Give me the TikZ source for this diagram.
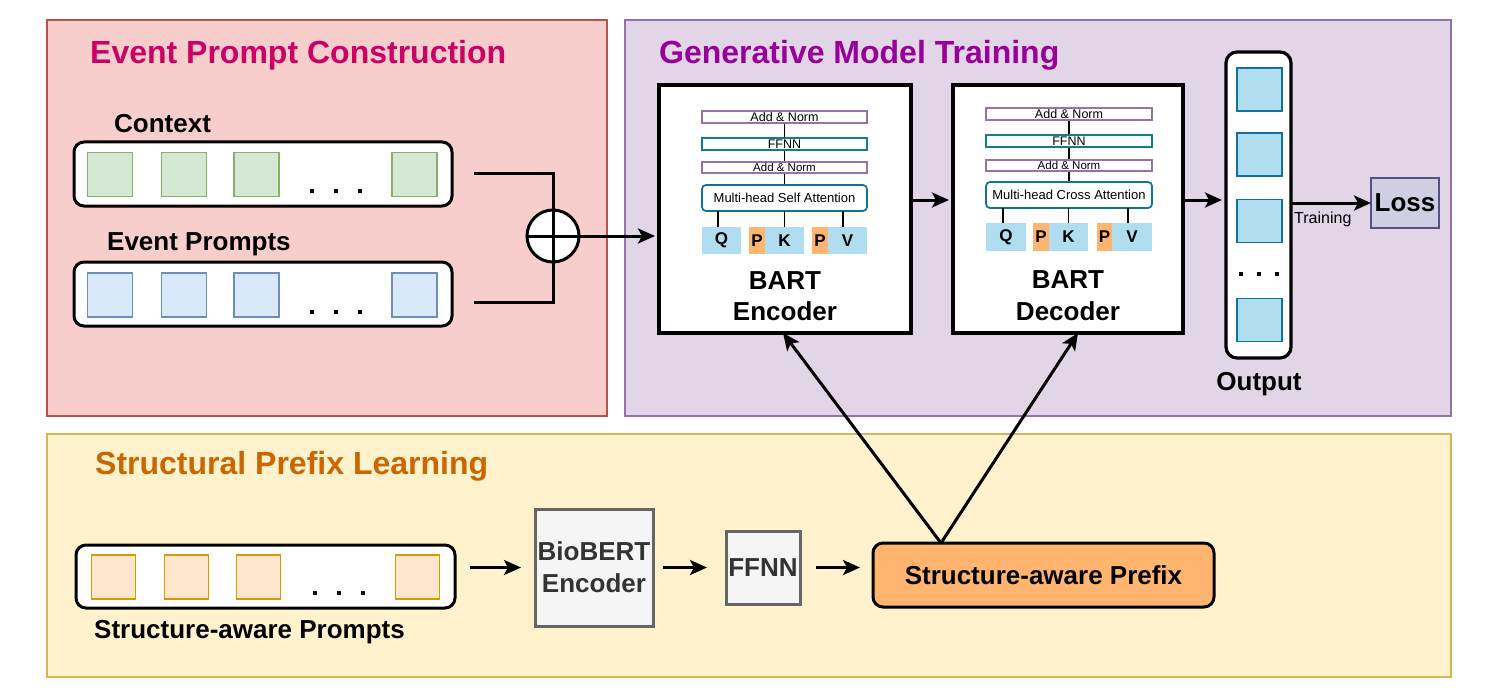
\documentclass[tikz,border=0pt]{standalone}
\usepackage{fontspec}
\setmainfont{Liberation Sans}
\usetikzlibrary{arrows.meta}
\definecolor{redfill}{HTML}{F8CECC}
\definecolor{redline}{HTML}{B85450}
\definecolor{purfill}{HTML}{E1D5E7}
\definecolor{purline}{HTML}{9673A6}
\definecolor{yelfill}{HTML}{FFF2CC}
\definecolor{yelline}{HTML}{D6B656}
\definecolor{tone}{HTML}{CC0066}
\definecolor{ttwo}{HTML}{990099}
\definecolor{tthree}{HTML}{CC6600}
\definecolor{grfill}{HTML}{D5E8D4}
\definecolor{grline}{HTML}{82B366}
\definecolor{blfill}{HTML}{DAE8FC}
\definecolor{blline}{HTML}{6C8EBF}
\definecolor{orfill}{HTML}{FFE6CC}
\definecolor{orline}{HTML}{D79B00}
\definecolor{qkv}{HTML}{B1DDF0}
\definecolor{qkvline}{HTML}{10739E}
\definecolor{porange}{HTML}{FFB570}
\definecolor{tealline}{HTML}{0E8088}
\definecolor{lossfill}{HTML}{D0CEE2}
\definecolor{lossline}{HTML}{56517E}
\definecolor{grayfill}{HTML}{F5F5F5}
\definecolor{grayline}{HTML}{666666}
\definecolor{graytext}{HTML}{333333}
\begin{document}
\begin{tikzpicture}[x=1pt,y=-1pt,
  panel/.style={draw, line width=1.5pt, inner sep=0, outer sep=0},
  title/.style={font=\fontsize{32}{36}\selectfont\bfseries, inner sep=0, anchor=base west},
  lbl/.style={font=\fontsize{26}{32}\selectfont\bfseries, inner sep=0},
  seqbox/.style={draw, line width=3pt, fill=white, rounded corners=10, inner sep=0, outer sep=0},
  sq/.style={draw, line width=1.5pt, minimum width=45, minimum height=44, inner sep=0, outer sep=0},
  bigbox/.style={draw, line width=3.2pt, fill=white, inner sep=0, outer sep=0},
  arr/.style={line width=3pt, -{Stealth[length=17pt,width=15pt,inset=4pt]}},
  con/.style={line width=3pt},
  thinl/.style={line width=1.6pt},
  an/.style={draw=purline, line width=1.5pt, fill=white, minimum width=165, inner sep=0, outer sep=0, font=\fontsize{12.5}{14}\selectfont},
  ff/.style={draw=tealline, line width=1.8pt, fill=white, minimum width=165, minimum height=12, inner sep=0, outer sep=0, font=\fontsize{12.5}{14}\selectfont},
  mh/.style={draw=qkvline, line width=1.7pt, fill=white, rounded corners=4, minimum width=165, minimum height=26, inner sep=0, outer sep=0, font=\fontsize{13}{15}\selectfont},
  qk/.style={fill=qkv, inner sep=0, outer sep=0, font=\fontsize{17}{18}\selectfont\bfseries},
  pp/.style={fill=porange, inner sep=0, outer sep=0, font=\fontsize{17}{18}\selectfont\bfseries},
  outsq/.style={draw=qkvline, fill=qkv, line width=1.5pt, minimum width=45, minimum height=43, inner sep=0, outer sep=0},
  graybox/.style={draw=grayline, fill=grayfill, line width=3pt, text=graytext, align=center, inner sep=0, outer sep=0, font=\fontsize{26}{32}\selectfont\bfseries}
]
\useasboundingbox (0,0) rectangle (1494,698);

% panels
\node[panel, fill=redfill, draw=redline, minimum width=560, minimum height=396] (pred) at (327,218) {};
\node[panel, fill=purfill, draw=purline, minimum width=826, minimum height=396] (ppur) at (1038,218) {};
\node[panel, fill=yelfill, draw=yelline, minimum width=1404, minimum height=243] (pyel) at (749,555.5) {};

\node[title, text=tone] (tone) at (90,64) {Event Prompt Construction};
\node[title, text=ttwo] (ttwo) at (659,64) {Generative Model Training};
\node[title, text=tthree] (tthree) at (95,474) {Structural Prefix Learning};

% context
\node[lbl, anchor=base west] (ctxl) at (114,132) {Context};
\node[seqbox, minimum width=378, minimum height=64] (ctx) at (263,174) {};
\foreach \x [count=\i] in {110,184,256.5,414.5}
  \node[sq, fill=grfill, draw=grline] (cs\i) at (\x,174.5) {};
\foreach \x in {312,336,360} \fill (\x-2.3,191-2.3) rectangle +(4.6,4.6);

% event prompts
\node[lbl, anchor=base west] (evtl) at (107,250) {Event Prompts};
\node[seqbox, minimum width=378, minimum height=64] (evt) at (263,294) {};
\foreach \x [count=\i] in {110,184,256.5,414.5}
  \node[sq, fill=blfill, draw=blline] (es\i) at (\x,295) {};
\foreach \x in {312,336,360} \fill (\x-2.3,312-2.3) rectangle +(4.6,4.6);

% combination
\node[circle, draw, line width=3pt, fill=white, minimum size=52, inner sep=0, outer sep=0] (plus) at (553,236) {};
\draw[con, shorten <=22pt] ([yshift=1pt]ctx.east) -| (plus.north);
\draw[con, shorten <=22pt] ([yshift=-8pt]evt.east) -| (plus.south);
\draw[con] (plus.north) -- (plus.south);
\draw[con] (plus.west) -- (plus.east);

% encoder / decoder boxes
\node[bigbox, minimum width=252, minimum height=248] (enc) at (785,209) {};
\node[bigbox, minimum width=230, minimum height=248] (dec) at (1068,209) {};
\draw[arr, shorten >=4pt] (plus.east) -- (plus.east -| enc.west);

% encoder internals
\draw[thinl] (784.5,117) -- (784.5,198);
\node[an, minimum height=12] (eA1) at (784.5,117) {Add \& Norm};
\node[ff] (eF) at (784.5,144) {FFNN};
\node[an, minimum height=11, font=\fontsize{11.5}{13}\selectfont] (eA2) at (784.5,167.5) {Add \& Norm};
\node[mh] (eM) at (784.5,198) {Multi-head Self Attention};
\node[qk, minimum width=39, minimum height=27] (eQ) at (721.5,240.5) {Q};
\node[pp, minimum width=16, minimum height=27] (eP1) at (757,240.5) {P};
\node[qk, minimum width=39, minimum height=27] (eK) at (784.5,240.5) {K};
\node[pp, minimum width=16, minimum height=27] (eP2) at (820,240.5) {P};
\node[qk, minimum width=39, minimum height=27] (eV) at (847.5,240.5) {V};
\draw[thinl] ([xshift=-3.5pt]eQ.north) -- ([xshift=-3.5pt]eQ.north |- eM.south);
\draw[thinl] (eK.north) -- (eK.north |- eM.south);
\draw[thinl] ([xshift=-4.5pt]eV.north) -- ([xshift=-4.5pt]eV.north |- eM.south);
\node[lbl, anchor=base] (encl1) at (785,289) {BART};
\node[lbl, anchor=base] (encl2) at (785,320) {Encoder};

% decoder internals
\draw[thinl] (1069,114) -- (1069,195);
\node[an, minimum width=166, minimum height=12] (dA1) at (1069,114) {Add \& Norm};
\node[ff, minimum width=166] (dF) at (1069,141) {FFNN};
\node[an, minimum width=166, minimum height=11, font=\fontsize{11.5}{13}\selectfont] (dA2) at (1069,165.5) {Add \& Norm};
\node[mh, minimum width=166] (dM) at (1069,195) {Multi-head Cross Attention};
\node[qk, minimum width=40, minimum height=28] (dQ) at (1006,237) {Q};
\node[pp, minimum width=16, minimum height=28] (dP1) at (1041,237) {P};
\node[qk, minimum width=39, minimum height=28] (dK) at (1068.5,237) {K};
\node[pp, minimum width=15, minimum height=28] (dP2) at (1104.5,237) {P};
\node[qk, minimum width=40, minimum height=28] (dV) at (1132,237) {V};
\draw[thinl] ([xshift=-3pt]dQ.north) -- ([xshift=-3pt]dQ.north |- dM.south);
\draw[thinl] (dK.north) -- (dK.north |- dM.south);
\draw[thinl] ([xshift=-4pt]dV.north) -- ([xshift=-4pt]dV.north |- dM.south);
\node[lbl, anchor=base] (decl1) at (1068,288) {BART};
\node[lbl, anchor=base] (decl2) at (1068,320) {Decoder};

\draw[arr, shorten >=4pt] ([yshift=9pt]enc.east) -- ([yshift=9pt]dec.west);

% output
\node[bigbox, rounded corners=11, minimum width=65, minimum height=306] (out) at (1258.5,205) {};
\foreach \y [count=\i] in {89.5,154.5,221,320}
  \node[outsq] (os\i) at (1259.5,\y) {};
\foreach \x in {1241,1259,1277} \fill (\x-2,274-2) rectangle +(4,4);
\node[lbl, anchor=base] (outl) at (1259,390) {Output};
\draw[arr, shorten >=4pt] ([yshift=9pt]dec.east) -- ([yshift=9pt]dec.east -| out.west);

% loss
\node[draw=lossline, fill=lossfill, line width=2.4pt, minimum width=68, minimum height=50, inner sep=0, outer sep=0, font=\fontsize{26}{30}\selectfont\bfseries] (loss) at (1405,203) {Loss};
\draw[arr] (loss.west -| out.east) -- (loss.west);
\node[font=\fontsize{16}{18}\selectfont, inner sep=0, anchor=base west] (trl) at (1294,223) {Training};

% bottom
\node[seqbox, minimum width=379, minimum height=63] (sp) at (265.5,576.5) {};
\foreach \x [count=\i] in {113.5,186.5,258.5,417.5}
  \node[sq, fill=orfill, draw=orline, minimum width=44] (ss\i) at (\x,577) {};
\foreach \x in {315,339,363} \fill (\x-2.3,593-2.3) rectangle +(4.6,4.6);
\node[lbl, anchor=base west] (spl) at (94,638) {Structure-aware Prompts};

\node[graybox, minimum width=118, minimum height=117] (bio) at (594,567.5) {BioBERT\\Encoder};
\node[graybox, minimum width=74, minimum height=73] (ffb) at (763,567.5) {FFNN};
\node[draw, fill=porange, line width=3pt, rounded corners=10, minimum width=341, minimum height=64, inner sep=0, outer sep=0, font=\fontsize{26}{30}\selectfont\bfseries] (pre) at (1043.5,575) {Structure-aware Prefix};

\draw[arr, shorten <=15pt, shorten >=14pt] (bio.west -| sp.east) -- (bio.west);
\draw[arr, shorten <=10pt, shorten >=19pt] (bio.east) -- (ffb.west);
\draw[arr, shorten <=16pt, shorten >=13pt] (ffb.east) -- (ffb.east -| pre.west);

\coordinate (apex) at ([xshift=-102.5pt]pre.north);
\draw[arr] (apex) -- ([xshift=-2pt]enc.south);
\draw[arr] (apex) -- ([xshift=10pt]dec.south);
\end{tikzpicture}
\end{document}
